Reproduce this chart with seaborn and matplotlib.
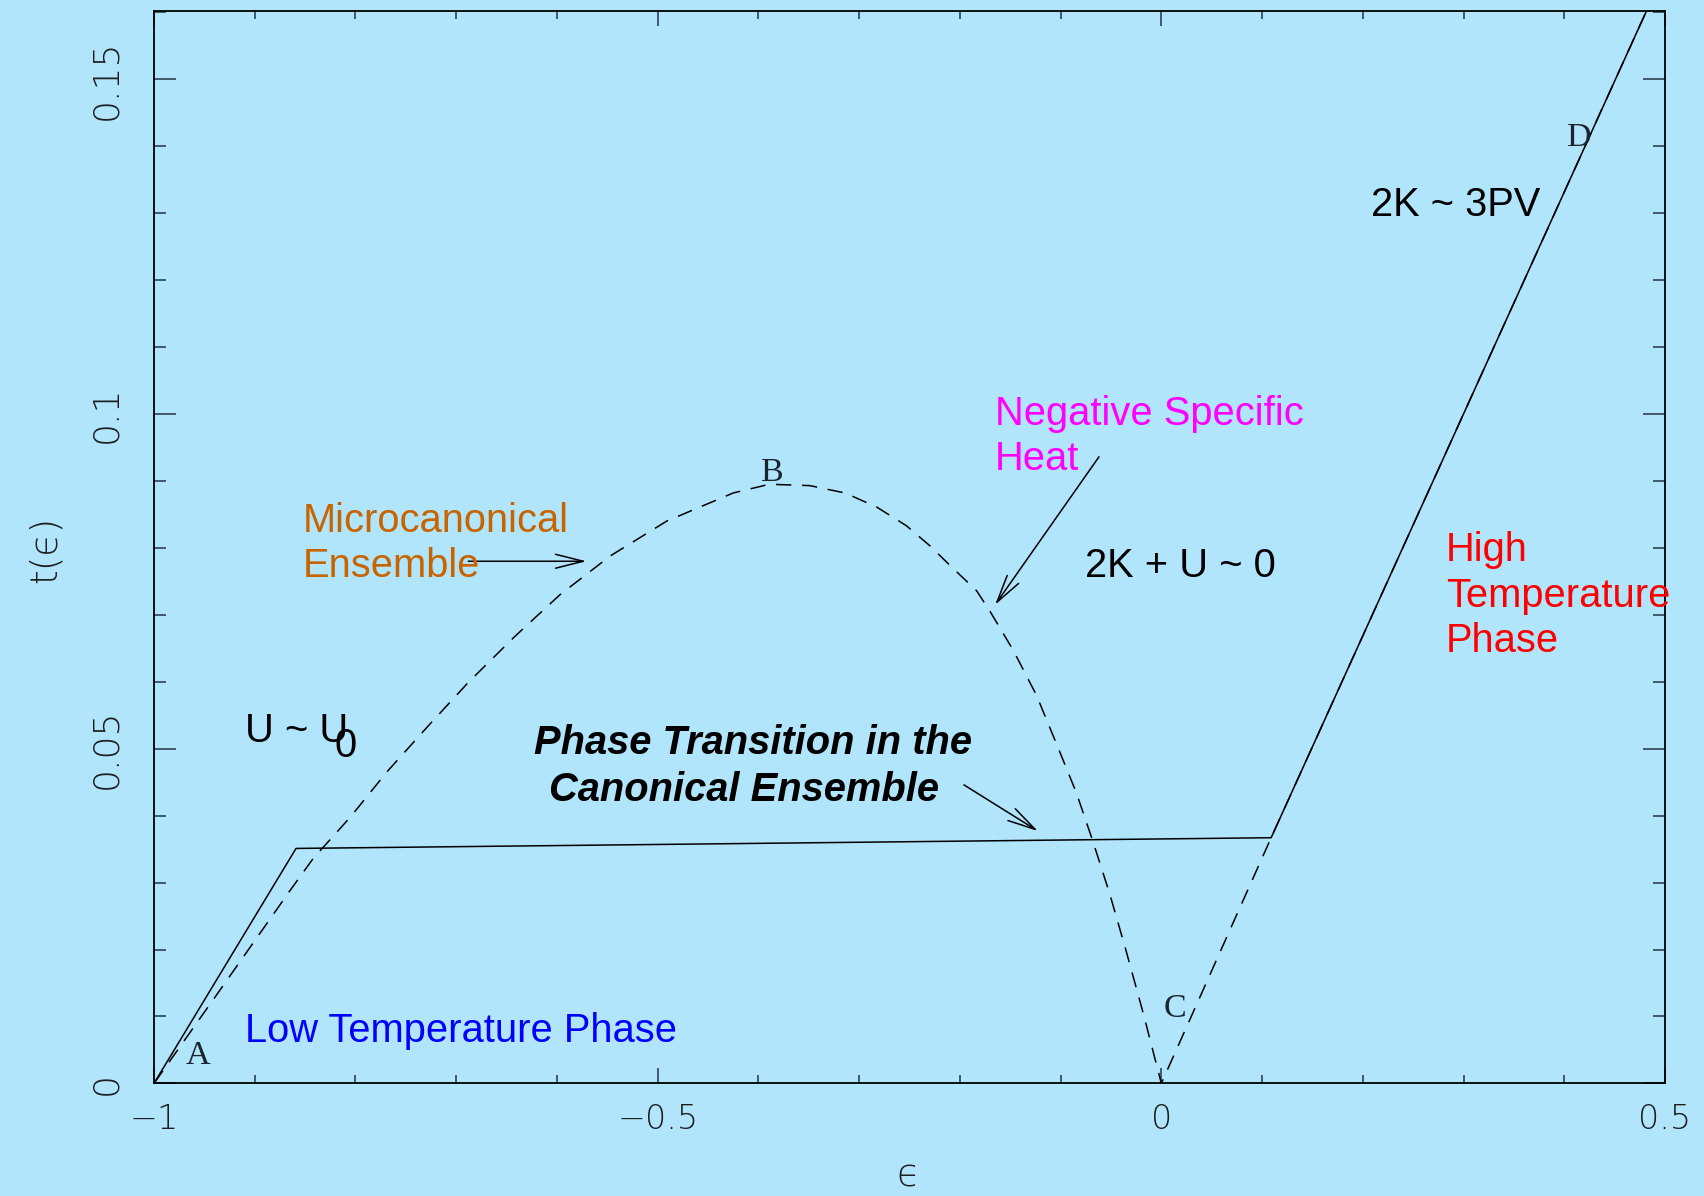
import matplotlib
matplotlib.use("Agg")
import matplotlib.pyplot as plt
import seaborn as sns
import numpy as np
import pandas as pd

# canonical ensemble (solid)
canon_eps = [-1.0, -0.859, 0.109, 0.5]
canon_t = [0.0, 0.0351, 0.0367, 0.1663]

# microcanonical ensemble (dashed)
micro_eps = [-1.0, -0.93, -0.865, -0.842, -0.805, -0.769, -0.729, -0.688, -0.643,
             -0.597, -0.547, -0.491, -0.425, -0.392, -0.3885, -0.349, -0.314,
             -0.2826, -0.253, -0.2297, -0.2065, -0.1834, -0.170, -0.147, -0.124,
             -0.104, -0.0843, -0.0678, -0.051, -0.0346, -0.018, 0.0, 0.109, 0.5]
micro_t = [0.0, 0.0149, 0.0288, 0.0336, 0.0398, 0.0465, 0.0532, 0.0599, 0.0666,
           0.0730, 0.0788, 0.0840, 0.0882, 0.0894, 0.0895, 0.0893, 0.0882,
           0.0861, 0.0833, 0.0803, 0.0769, 0.0736, 0.0705, 0.0647, 0.0580,
           0.0507, 0.0434, 0.0361, 0.0282, 0.0196, 0.0105, 0.0, 0.0367, 0.1663]

xticks = [-1, -0.5, 0, 0.5]
xtick_labels = ['\u22121', '\u22120.5', '0', '0.5']
yticks = [0, 0.05, 0.1, 0.15]
ytick_labels = ['0', '0.05', '0.1', '0.15']

bg = '#b1e5fc'
W, H = 1704, 1196

sns.set_style('ticks')
plt.rcParams['font.family'] = ['Liberation Sans', 'DejaVu Sans']

fig = plt.figure(figsize=(W / 100, H / 100), dpi=100, facecolor=bg)
ax = fig.add_axes([154 / W, 1 - 1083.4 / H, (1665 - 154) / W, (1083.4 - 11) / H])
ax.set_facecolor(bg)

canon = pd.DataFrame({'eps': canon_eps, 't': canon_t})
micro = pd.DataFrame({'eps': micro_eps, 't': micro_t})

sns.lineplot(data=canon, x='eps', y='t', ax=ax, color='black', lw=1.1,
             estimator=None, sort=False)
sns.lineplot(data=micro, x='eps', y='t', ax=ax, color='black', lw=1.1,
             estimator=None, sort=False, dashes=False, linestyle=(0, (10, 7)))

ax.set_xlim(-1, 0.5)
ax.set_ylim(0, 0.1602)

thin = dict(family=['DejaVu Sans'], weight=200, color='#1e1e1e')
ax.set_xticks(xticks)
ax.set_xticklabels(xtick_labels, fontsize=24, **thin)
ax.set_yticks(yticks)
ax.set_yticklabels(ytick_labels, fontsize=26, rotation=90, va='center', **thin)
ax.set_xticks(np.arange(-1, 0.51, 0.1), minor=True)
ax.set_yticks(np.arange(0, 0.161, 0.01), minor=True)
ax.tick_params(which='both', direction='in', top=True, right=True,
               color='#223344', width=1.1)
ax.tick_params(axis='x', which='major', length=11, pad=14)
ax.tick_params(axis='x', which='minor', length=6)
ax.tick_params(axis='y', which='major', length=16, pad=22)
ax.tick_params(axis='y', which='minor', length=8.5)
for s in ax.spines.values():
    s.set_linewidth(1.3)
    s.set_color('black')

ax.set_xlabel('')
ax.set_ylabel('')
fig.text(908 / W, 1 - 1176 / H, '\u03f5', fontsize=27, ha='center', va='center', **thin)
fig.text(45 / W, 1 - 549 / H, 't(\u03f5)', fontsize=27, rotation=90,
         ha='center', va='center', **thin)


def put(x, y, s, **kw):
    fig.text(x / W, 1 - y / H, s, va='baseline', ha='left', **kw)


big = 28.7
put(303, 532, 'Microcanonical', fontsize=big, color='#c86400')
put(303, 577, 'Ensemble', fontsize=big, color='#c86400')
put(995, 425, 'Negative Specific', fontsize=big, color='#ff00ff')
put(995, 470, 'Heat', fontsize=big, color='#ff00ff')
put(1085, 577, '2K + U ~ 0', fontsize=big, color='black')
put(1371, 216, '2K ~ 3PV', fontsize=big, color='black')
put(245, 742, 'U ~ U', fontsize=big, color='black')
put(334, 757, '0', fontsize=big, color='black')
put(534, 754, 'Phase Transition in the', fontsize=big, color='black',
    weight='bold', style='italic')
put(549, 801, 'Canonical Ensemble', fontsize=big, color='black',
    weight='bold', style='italic')
put(245, 1042, 'Low Temperature Phase', fontsize=big, color='#0000ff')
put(1446, 561, 'High', fontsize=big, color='#ff0000')
put(1446, 607, 'Temperature', fontsize=big, color='#ff0000')
put(1446, 652, 'Phase', fontsize=big, color='#ff0000')

serif = dict(fontsize=24.5, color='#1a2530', family=['Liberation Serif', 'DejaVu Serif'])
put(186, 1064, 'A', **serif)
put(761, 481, 'B', **serif)
put(1164, 1017, 'C', **serif)
put(1567, 146, 'D', **serif)

arrow = dict(arrowstyle='->,head_length=1.0,head_width=0.25', color='black',
             lw=1.1, mutation_scale=20, shrinkA=0, shrinkB=0)
ax.annotate('', xy=(-0.5707, 0.0780), xytext=(-0.688, 0.0780), arrowprops=arrow)
ax.annotate('', xy=(-0.165, 0.0715), xytext=(-0.0619, 0.0936), arrowprops=arrow)
ax.annotate('', xy=(-0.1226, 0.0377), xytext=(-0.196, 0.0446), arrowprops=arrow)

fig.savefig('out.png', dpi=100, facecolor=bg)
